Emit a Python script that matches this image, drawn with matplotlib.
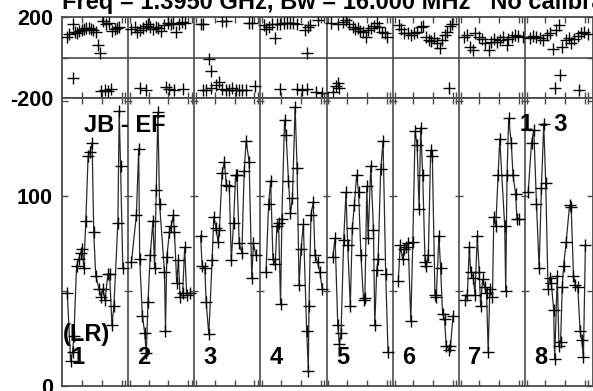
import matplotlib
matplotlib.use('Agg')
import matplotlib.pyplot as plt

plt.rcParams['font.family'] = ['Liberation Sans', 'DejaVu Sans']

# ---------------- data ----------------
panel_labels = ['1', '2', '3', '4', '5', '6', '7', '8']
title_text = 'Freq = 1.3950 GHz, Bw = 16.000 MHz   No calibration applied'
baseline_label = 'JB - EF'
stokes_label = '(LR)'
source_label = '1 - 3'

# amplitude: time (fraction of panel) and value
amp_t1 = [0.08, 0.13, 0.16, 0.18, 0.22, 0.255, 0.28, 0.305, 0.33, 0.36, 0.395, 0.42, 0.455, 0.48,
          0.51, 0.56, 0.59, 0.62, 0.65, 0.695, 0.72, 0.755, 0.785, 0.845, 0.865, 0.885, 0.92]
amp_v1 = [49, 13, 18, 26, 63, 67, 70, 72, 62, 87, 121, 123, 128, 81,
          58, 51, 47, 51, 45, 59, 59, 32, 42, 86, 145, 116, 62]
amp_t2 = [0.05, 0.125, 0.16, 0.175, 0.215, 0.25, 0.275, 0.30, 0.335, 0.375, 0.40, 0.425, 0.45, 0.475,
          0.55, 0.565, 0.585, 0.625, 0.65, 0.685, 0.70, 0.735, 0.76, 0.785, 0.825, 0.855, 0.885, 0.935]
amp_v2 = [65, 90, 125, 67, 37, 28, 17, 44, 69, 87, 62, 103, 144, 96,
          60, 29, 68, 81, 84, 90, 81, 54, 66, 47, 49, 73, 48, 49]
amp_t3 = [0.095, 0.12, 0.16, 0.18, 0.22, 0.27, 0.295, 0.33, 0.36, 0.38, 0.42, 0.455, 0.485,
          0.53, 0.56, 0.595, 0.625, 0.645, 0.68, 0.72, 0.755, 0.785, 0.83, 0.87, 0.895, 0.93]
amp_v3 = [79, 63, 62, 44, 27, 66, 89, 83, 76, 82, 112, 118, 106,
          105, 66, 86, 111, 111, 75, 70, 113, 129, 118, 57, 75, 69]
amp_t4 = [0.085, 0.125, 0.155, 0.19, 0.225, 0.25, 0.275, 0.305, 0.325, 0.365, 0.39, 0.425, 0.455, 0.485,
          0.525, 0.555, 0.585, 0.615, 0.65, 0.70, 0.725, 0.735, 0.765, 0.80, 0.825, 0.865, 0.90, 0.935]
amp_v4 = [60, 96, 108, 67, 64, 84, 86, 43, 88, 140, 132, 108, 91, 99,
          147, 115, 53, 72, 85, 29, 8, 42, 90, 97, 69, 65, 60, 51]
amp_t5 = [0.095, 0.13, 0.17, 0.195, 0.22, 0.26, 0.295, 0.32, 0.36, 0.39, 0.42, 0.455, 0.485, 0.52,
          0.56, 0.58, 0.61, 0.63, 0.67, 0.71, 0.73, 0.76, 0.78, 0.82, 0.855, 0.895, 0.93]
amp_v5 = [68, 78, 32, 22, 28, 77, 102, 74, 42, 83, 95, 111, 102, 69,
          45, 46, 105, 78, 116, 82, 32, 61, 67, 114, 129, 59, 18]
amp_t6 = [0.085, 0.115, 0.15, 0.175, 0.20, 0.235, 0.275, 0.305, 0.34, 0.37, 0.40, 0.425, 0.455, 0.49,
          0.51, 0.54, 0.575, 0.60, 0.64, 0.66, 0.70, 0.725, 0.755, 0.785, 0.81, 0.85, 0.875, 0.915]
amp_v6 = [55, 74, 67, 72, 73, 75, 34, 76, 134, 127, 93, 136, 111, 65,
          63, 69, 124, 121, 48, 47, 79, 62, 38, 35, 21, 19, 21, 37]
amp_t7 = [0.095, 0.13, 0.16, 0.18, 0.22, 0.245, 0.28, 0.31, 0.33, 0.36, 0.395, 0.42, 0.445, 0.47,
          0.51, 0.53, 0.56, 0.595, 0.62, 0.695, 0.71, 0.73, 0.755, 0.795, 0.82, 0.86, 0.88, 0.91]
amp_v7 = [45, 48, 73, 60, 57, 48, 79, 60, 42, 56, 52, 49, 18, 51,
          47, 89, 84, 111, 130, 84, 50, 111, 141, 128, 111, 101, 88, 88]
amp_t8 = [0.05, 0.10, 0.135, 0.175, 0.215, 0.25, 0.285, 0.315, 0.35, 0.375, 0.40, 0.435, 0.45, 0.49,
          0.515, 0.54, 0.565, 0.585, 0.625, 0.675, 0.70, 0.735, 0.765, 0.80, 0.835, 0.86, 0.885, 0.915]
amp_v8 = [102, 128, 135, 96, 62, 104, 138, 107, 51, 57, 54, 40, 14, 58,
          21, 23, 52, 63, 76, 95, 94, 58, 53, 52, 29, 24, 15, 74]

# phase: time (fraction of panel) and value (degrees)
ph_t1 = [0.07, 0.11, 0.16, 0.16, 0.195, 0.23, 0.26, 0.295, 0.33, 0.37, 0.41, 0.445, 0.47, 0.51,
         0.545, 0.58, 0.595, 0.62, 0.645, 0.67, 0.695, 0.71, 0.745, 0.76, 0.795, 0.83, 0.86]
ph_v1 = [100, 117, 167, -104, 128, 120, 131, 137, 140, 145, 145, 140, 137, 128,
         62, 24, -165, 183, -162, 167, -165, 174, -158, 131, 140, 145, 153]
ph_t2 = [0.05, 0.10, 0.135, 0.175, 0.185, 0.225, 0.265, 0.265, 0.30, 0.335, 0.375, 0.415, 0.45,
         0.50, 0.55, 0.575, 0.60, 0.615, 0.65, 0.685, 0.70, 0.725, 0.765, 0.815, 0.825, 0.865]
ph_v2 = [140, 153, 128, -153, 137, 145, 157, -162, 167, 150, 140, 153, 145,
         131, 160, -145, 174, -158, 167, 170, -162, 128, 167, 178, -158, 174]
ph_t3 = [0.10, 0.125, 0.135, 0.175, 0.225, 0.25, 0.25, 0.325, 0.375, 0.425, 0.425, 0.475, 0.475,
         0.525, 0.575, 0.625, 0.675, 0.725, 0.775, 0.825, 0.875, 0.925]
ph_v3 = [167, -162, 167, -162, -9, -66, -153, -137, -120, 183, -155, 183, -160,
         -162, -153, -160, -162, -160, -162, 174, 170, -141]
ph_t4 = [0.05, 0.085, 0.125, 0.175, 0.215, 0.25, 0.30, 0.30, 0.35, 0.40, 0.45, 0.50, 0.55, 0.55,
         0.625, 0.675, 0.70, 0.70, 0.715, 0.75, 0.835, 0.875, 0.925]
ph_v4 = [160, 140, 153, 167, 95, 167, 167, -158, 170, 174, 170, 174, 167, -158,
         -162, 137, 24, -158, 150, 160, -170, 186, -178]
ph_t5 = [0.07, 0.095, 0.145, 0.17, 0.17, 0.195, 0.245, 0.295, 0.345, 0.395, 0.43, 0.47, 0.51,
         0.545, 0.595, 0.62, 0.67, 0.72, 0.77, 0.795, 0.845, 0.88, 0.92]
ph_v5 = [174, -170, -141, 167, -128, -150, 178, 186, 167, 153, 140, 145, 131,
         128, 100, 137, 145, 157, 170, 150, 128, 120, 103]
ph_t6 = [0.10, 0.125, 0.175, 0.225, 0.275, 0.325, 0.365, 0.425, 0.455, 0.50, 0.55, 0.585, 0.625,
         0.675, 0.715, 0.75, 0.785, 0.825, 0.85, 0.865, 0.90]
ph_v6 = [160, 140, 120, 123, 112, 120, 128, 153, 157, 103, 87, 84, 95,
         70, 46, 87, 112, 128, -150, 157, 167]
ph_t7 = [0.075, 0.125, 0.165, 0.215, 0.25, 0.30, 0.35, 0.40, 0.45, 0.485, 0.535, 0.575, 0.625,
         0.675, 0.725, 0.75, 0.80, 0.85, 0.90, 0.965]
ph_v7 = [103, 112, 54, 38, 120, 103, 90, 73, 38, 78, 90, 78, 87,
         100, 62, 90, 103, 112, 107, 100]
ph_t8 = [0.075, 0.125, 0.175, 0.225, 0.275, 0.335, 0.375, 0.425, 0.45, 0.475, 0.515, 0.535, 0.565,
         0.615, 0.665, 0.70, 0.75, 0.80, 0.825, 0.85, 0.90, 0.95]
ph_v8 = [95, 107, 100, 95, 87, 112, 123, 41, -153, 137, 160, -87, 54,
         87, 95, 70, 90, 107, -162, 120, 128, 115]

amp_t = [amp_t1, amp_t2, amp_t3, amp_t4, amp_t5, amp_t6, amp_t7, amp_t8]
amp_v = [amp_v1, amp_v2, amp_v3, amp_v4, amp_v5, amp_v6, amp_v7, amp_v8]
ph_t = [ph_t1, ph_t2, ph_t3, ph_t4, ph_t5, ph_t6, ph_t7, ph_t8]
ph_v = [ph_v1, ph_v2, ph_v3, ph_v4, ph_v5, ph_v6, ph_v7, ph_v8]

# ---------------- layout ----------------
W, H = 593, 391
fig = plt.figure(figsize=(W / 100, H / 100), dpi=100)
L = 62 / W
y_top, y_mid, y_bot = 17.3, 97.7, 385.7
ax_ph = fig.add_axes([L, 1 - y_mid / H, 1 - L, (y_mid - y_top) / H])
ax_am = fig.add_axes([L, 1 - y_bot / H, 1 - L, (y_bot - y_mid) / H])

FRAME = '#4a4a4a'
npan = len(panel_labels)
tick_pos = []
for i in range(npan):
    tick_pos += [i + 0.31, i + 0.61, i + 0.91, i + 0.96, i + 1.03]

for ax in (ax_ph, ax_am):
    ax.set_xlim(0, npan)
    for s in ax.spines.values():
        s.set_color(FRAME)
        s.set_linewidth(1.3)
    for i in range(1, npan):
        ax.axvline(i, color=FRAME, lw=1.2, zorder=1)
    ax.set_xticks(tick_pos)
    ax.tick_params(axis='x', direction='in', top=True, bottom=True, length=4,
                   width=1, color=FRAME, labelbottom=False)
    ax.tick_params(axis='y', direction='in', left=True, right=True, length=4,
                   width=1, color=FRAME, pad=6.5, labelsize=15.5)

# phase panel
ax_ph.set_ylim(-200, 200)
ax_ph.set_yticks([-200, 0, 200])
ax_ph.set_yticklabels(['-200', '', '200'], fontweight='bold', fontsize=15.5)
ax_ph.axhline(0, color=FRAME, lw=1.2, zorder=1)

# amplitude panel
ax_am.set_ylim(0, 151.8)
ax_am.set_yticks([0, 50, 100, 150])
ax_am.set_yticklabels(['0', '', '100', ''], fontweight='bold', fontsize=15.5)
for i in range(1, npan):
    ax_am.hlines([50, 100, 150], i - 0.06, i + 0.06, color=FRAME, lw=1.0, zorder=1)

mk = dict(marker='+', markersize=8, markeredgewidth=1.0, markeredgecolor='black')
for i in range(npan):
    xs = [i + t for t in amp_t[i]]
    ax_am.plot(xs, amp_v[i], color='#2a2a2a', lw=0.9, zorder=3, **mk)
    xp = [i + t for t in ph_t[i]]
    ax_ph.plot(xp, ph_v[i], ls='none', zorder=3, **mk)
    ax_am.text(i + 0.14, 11.4, panel_labels[i], fontsize=17, fontweight='bold',
               ha='left', va='baseline', zorder=5)

ax_am.text(0.34, 133.9, baseline_label, fontsize=17, fontweight='bold', ha='left', va='baseline', zorder=5)
ax_am.text(6.92, 134.3, source_label, fontsize=17, fontweight='bold', ha='left', va='baseline', zorder=5)
ax_am.text(0.02, 23.7, stokes_label, fontsize=17, fontweight='bold', ha='left', va='baseline', zorder=5)

fig.text(61.5 / W, 1 - 9.5 / H, title_text, fontsize=17, fontweight='bold', ha='left', va='baseline')

fig.savefig('out.png', dpi=100)
